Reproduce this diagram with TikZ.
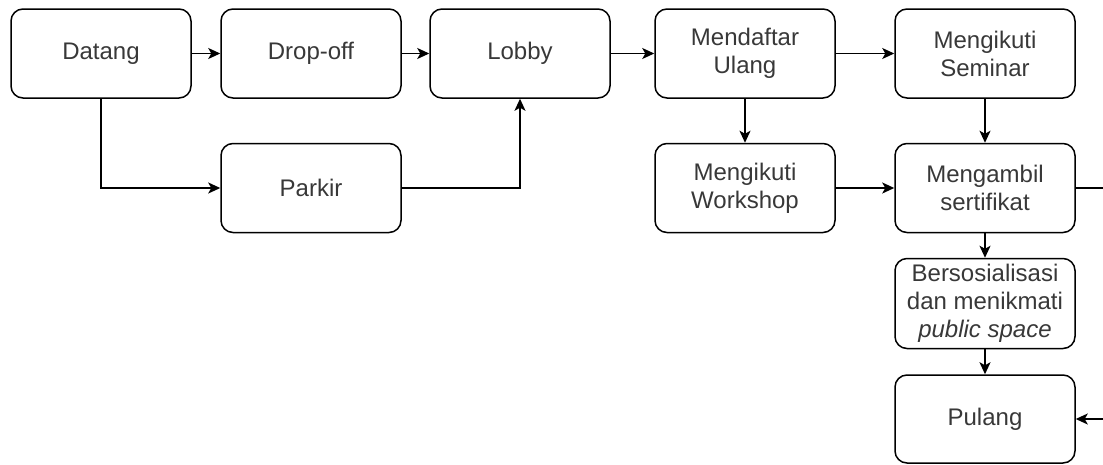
\documentclass[tikz,border=0pt]{standalone}
\usepackage{fontspec}
\setmainfont{Liberation Sans}
\usetikzlibrary{arrows.meta}
\begin{document}
\begin{tikzpicture}[x=1pt,y=-1pt,
  stepbox/.style={draw=black, line width=1.5pt, rounded corners=12pt,
    minimum width=180pt, minimum height=89pt, align=center,
    text=black!78, font=\fontsize{24}{28}\selectfont, inner sep=2pt},
  conn/.style={line width=1.5pt, -{Stealth[length=12pt,width=11pt,inset=3pt]}}]
\useasboundingbox (0,0) rectangle (1103,464);
\clip (0,0) rectangle (1103,464);
\node[stepbox] (datang) at (101,53.5) {Datang};
\node[stepbox] (drop) at (311,53.5) {Drop-off};
\node[stepbox] (lobby) at (520,53.5) {Lobby};
\node[stepbox] (daftar) at (745,53.5) {Mendaftar\\Ulang};
\node[stepbox] (seminar) at (985,53.5) {Mengikuti\\Seminar};
\node[stepbox] (parkir) at (311,188) {Parkir};
\node[stepbox] (workshop) at (745,188) {Mengikuti\\Workshop};
\node[stepbox] (serti) at (985,188) {Mengambil\\sertifikat};
\node[stepbox, minimum height=90pt] (sosial) at (985,303.5) {Bersosialisasi\\dan menikmati\\\textit{public space}};
\node[stepbox, minimum height=88pt] (pulang) at (985,419) {Pulang};
\coordinate (rt) at (1118,188);
\draw[conn] (datang) -- (drop);
\draw[conn] (drop) -- (lobby);
\draw[conn] (lobby) -- (daftar);
\draw[conn] (daftar) -- (seminar);
\draw[conn] (datang.south) |- (parkir.west);
\draw[conn] (parkir.east) -| (lobby.south);
\draw[conn] (daftar) -- (workshop);
\draw[conn] (seminar) -- (serti);
\draw[conn] (workshop) -- (serti);
\draw[conn] (serti) -- (sosial);
\draw[conn] (sosial) -- (pulang);
\draw[conn] (serti.east) -- (rt) |- (pulang.east);
\end{tikzpicture}
\end{document}
